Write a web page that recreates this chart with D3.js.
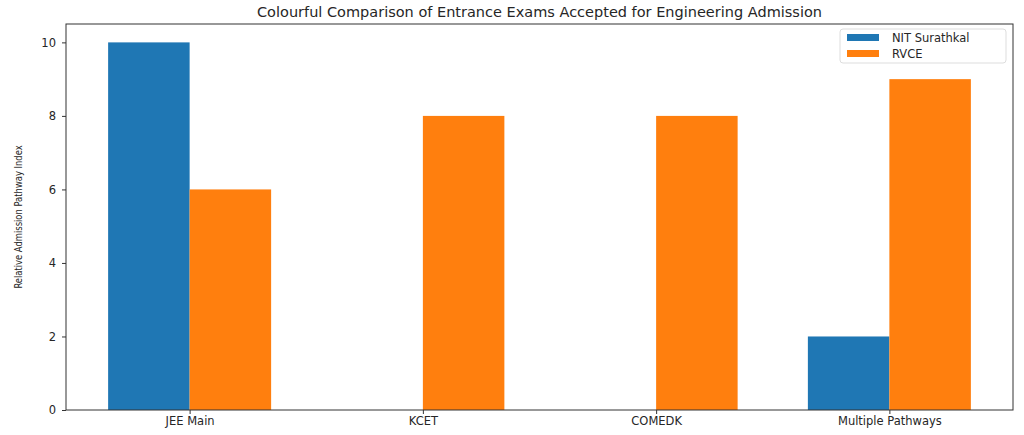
<!DOCTYPE html>
<html><head><meta charset="utf-8">
<script src="https://cdn.jsdelivr.net/npm/d3@7"></script>
<style>body{margin:0;background:#fff}text{font-family:"DejaVu Sans",sans-serif;fill:#262626}</style>
</head><body>
<svg id="chart" width="1024" height="435"></svg>
<script>
var categories = ['JEE Main', 'KCET', 'COMEDK', 'Multiple Pathways'];
var nitValues = [10, 0, 0, 2];
var rvceValues = [6, 8, 8, 9];
var seriesNames = ['NIT Surathkal', 'RVCE'];
var colors = ['#1f77b4', '#ff7f0e'];
var yTicks = [0, 2, 4, 6, 8, 10];

var svg = d3.select('#chart'),
    margin = {top: 24, right: 11, bottom: 25, left: 66},
    width = 1024, height = 435;

var xScale = d3.scalePoint()
  .domain(categories)
  .range([margin.left, width - margin.right])
  .padding(0.53);
var barW = 81.5;

var yScale = d3.scaleLinear()
  .domain([0, 10.5])
  .range([height - margin.bottom, margin.top]);

[nitValues, rvceValues].forEach(function(vals, s){
  svg.append('g').selectAll('rect')
    .data(vals)
    .enter().append('rect')
    .attr('x', function(d, i){ return xScale(categories[i]) + (s - 1) * barW; })
    .attr('y', function(d){ return yScale(d); })
    .attr('width', barW)
    .attr('height', function(d){ return yScale(0) - yScale(d); })
    .attr('fill', colors[s]);
});

var xAxis = svg.append('g')
  .attr('transform', `translate(0, ${height - margin.bottom})`)
  .call(d3.axisBottom(xScale).tickSizeOuter(0).tickSize(4));
var yAxis = svg.append('g')
  .attr('transform', `translate(${margin.left}, 0)`)
  .call(d3.axisLeft(yScale).tickValues(yTicks).tickSize(4).tickSizeOuter(0));
[xAxis, yAxis].forEach(function(a){
  a.select('.domain').remove();
  a.selectAll('text').style('font-size', '11.5px').attr('fill', '#262626');
  a.selectAll('line').attr('stroke', '#333');
});
yAxis.selectAll('text').attr('x', -10);

// frame
svg.append('rect')
  .attr('x', margin.left).attr('y', margin.top)
  .attr('width', width - margin.left - margin.right)
  .attr('height', height - margin.top - margin.bottom)
  .attr('fill', 'none').attr('stroke', '#333').attr('stroke-width', 1);

svg.append('text')
  .attr('x', (margin.left + width - margin.right) / 2).attr('y', 17)
  .attr('text-anchor', 'middle').style('font-size', '14.5px')
  .text('Colourful Comparison of Entrance Exams Accepted for Engineering Admission');

svg.append('text')
  .attr('transform', `translate(22, ${(margin.top + height - margin.bottom) / 2}) rotate(-90)`)
  .attr('text-anchor', 'middle')
  .style('font-family', '"DejaVu Sans Condensed", "DejaVu Sans", sans-serif')
  .style('font-size', '11px').style('font-stretch', 'condensed')
  .attr('transform', `translate(22, ${(margin.top + height - margin.bottom) / 2}) rotate(-90) scale(0.85,1)`)
  .text('Relative Admission Pathway Index');

// legend
var legend = svg.append('g');
legend.append('rect')
  .attr('x', 840).attr('y', 29).attr('width', 166).attr('height', 34)
  .attr('rx', 3).attr('fill', '#fff').attr('stroke', '#ddd');
seriesNames.forEach(function(n, i){
  legend.append('rect')
    .attr('x', 847).attr('y', 34 + i * 16).attr('width', 32).attr('height', 7)
    .attr('fill', colors[i]);
  legend.append('text')
    .attr('x', 892).attr('y', 42 + i * 16)
    .style('font-size', '11.5px').text(n);
});
</script>
</body></html>
